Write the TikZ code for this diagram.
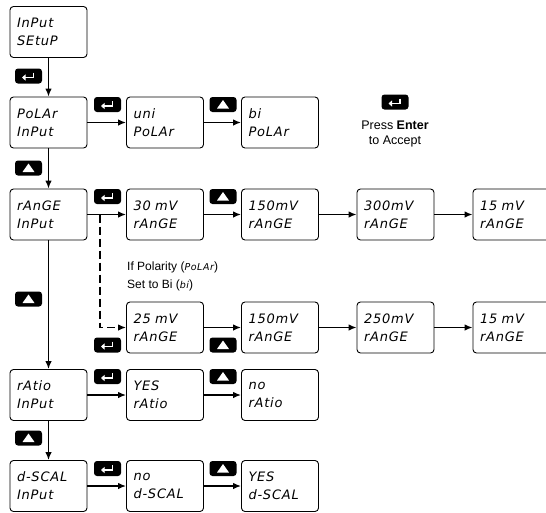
\documentclass[tikz,border=0pt]{standalone}
\usepackage{fontspec}
\setmainfont{Liberation Sans}
\newfontfamily\segfont[LetterSpace=6]{DejaVu Sans}
\usetikzlibrary{arrows.meta}

\begin{document}
\begin{tikzpicture}[>={Latex[length=8pt,width=6.5pt]},x=1pt,y=-1pt,
  disp/.style={draw,line width=0.9pt,rounded corners=3.5pt,minimum height=51pt,
    text width=63pt,inner xsep=7pt,align=left,
    font=\segfont\itshape\fontsize{13}{18}\selectfont},
  key/.style={fill=black,rounded corners=3pt,minimum width=27pt,minimum height=15pt,inner sep=0pt},
  enterkey/.style={key,path picture={
    \draw[white,sharp corners,line width=1.5pt,-{Triangle[length=3.5pt,width=6pt]}]
      ([shift={(5pt,3.5pt)}]path picture bounding box.center)
      |- ([shift={(-6.5pt,-1.5pt)}]path picture bounding box.center);}},
  upkey/.style={key,path picture={
    \fill[white,sharp corners] ([shift={(-6pt,-4pt)}]path picture bounding box.center)
      -- ([shift={(6pt,-4pt)}]path picture bounding box.center)
      -- ([shift={(0pt,4.5pt)}]path picture bounding box.center) -- cycle;}},
  flow/.style={->,line width=1.4pt}]
  \useasboundingbox (0,0) rectangle (546,512);
  % main column
  \node[disp] (inp) at (48.5,32) {InPut\\SEtuP};
  \node[disp] (pol) at (48.5,122.5) {PoLAr\\InPut};
  \node[disp] (rng) at (48.5,214.5) {rAnGE\\InPut};
  \node[disp] (rat) at (48.5,395) {rAtio\\InPut};
  \node[disp] (dsc) at (48.5,486) {d-SCAL\\InPut};
  % polarity
  \node[disp] (uni) at (165,122.5) {uni\\PoLAr};
  \node[disp] (bip) at (280,122.5) {bi\\PoLAr};
  % unipolar ranges
  \node[disp] (ua) at (165,214.5) {30 mV\\rAnGE};
  \node[disp] (ub) at (280,214.5) {150mV\\rAnGE};
  \node[disp] (uc) at (395.5,214.5) {300mV\\rAnGE};
  \node[disp] (ud) at (511.5,214.5) {15 mV\\rAnGE};
  % bipolar ranges
  \node[disp] (ba) at (165,327.5) {25 mV\\rAnGE};
  \node[disp] (bb) at (280,327.5) {150mV\\rAnGE};
  \node[disp] (bc) at (395.5,327.5) {250mV\\rAnGE};
  \node[disp] (bd) at (511.5,327.5) {15 mV\\rAnGE};
  % ratio, display scaling
  \node[disp] (ryes) at (165,395) {YES\\rAtio};
  \node[disp] (rno) at (280,395) {no\\rAtio};
  \node[disp] (dno) at (165,486) {no\\d-SCAL};
  \node[disp] (dyes) at (280,486) {YES\\d-SCAL};
  % keys
  \node[enterkey] (k1) at (28.5,76) {};
  \node[upkey] (k2) at (28.5,168) {};
  \node[upkey] (k3) at (28.5,299) {};
  \node[upkey] (k4) at (28.5,438) {};
  \node[enterkey] (k5) at (107.5,104.5) {};
  \node[upkey] (k6) at (223,104.5) {};
  \node[enterkey] (k7) at (107.5,196.5) {};
  \node[upkey] (k8) at (223,196.5) {};
  \node[enterkey] (k9) at (107.5,345) {};
  \node[upkey] (k10) at (223,345) {};
  \node[enterkey] (k11) at (107.5,376.5) {};
  \node[upkey] (k12) at (223,376.5) {};
  \node[enterkey] (k13) at (107.5,468.5) {};
  \node[upkey] (k14) at (223,468.5) {};
  % legend
  \node[enterkey] (kl) at (395,102) {};
  \node[align=center,font=\fontsize{12.5}{15}\selectfont] (legend) at (395,134)
    {Press \textbf{Enter}\\to Accept};
  \node[align=left,anchor=west,inner sep=0pt,font=\fontsize{12}{18}\selectfont] (note) at (127,276.5)
    {If Polarity ({\segfont\itshape\fontsize{9.5}{9}\selectfont PoLAr})\\
     Set to Bi ({\segfont\itshape\fontsize{9.5}{9}\selectfont bi})};
  % connectors
  \draw[flow] (inp) -- (pol);
  \draw[flow] (pol) -- (rng);
  \draw[flow] (rng) -- (rat);
  \draw[flow] (rat) -- (dsc);
  \draw[flow] (pol) -- (uni);
  \draw[flow] (uni) -- (bip);
  \draw[flow] (rng) -- (ua);
  \draw[flow] (ua) -- (ub);
  \draw[flow] (ub) -- (uc);
  \draw[flow] (uc) -- (ud);
  \coordinate (split) at (100,214.5);
  \draw[flow,dash pattern=on 8pt off 4pt] (split) |- (ba.west);
  \draw[flow] (ba) -- (bb);
  \draw[flow] (bb) -- (bc);
  \draw[flow] (bc) -- (bd);
  \draw[flow] (rat) -- (ryes);
  \draw[flow] (ryes) -- (rno);
  \draw[flow] (dsc) -- (dno);
  \draw[flow] (dno) -- (dyes);
\end{tikzpicture}
\end{document}
